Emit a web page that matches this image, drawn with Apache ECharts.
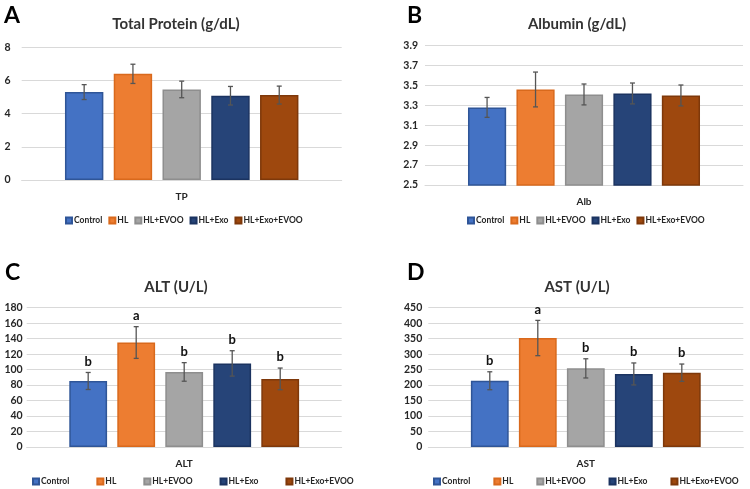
<!DOCTYPE html>
<html>
<head>
<meta charset="utf-8">
<script src="https://cdn.jsdelivr.net/npm/echarts@6/dist/echarts.min.js"></script>
<style>
  html, body { margin: 0; padding: 0; background: #fff; }
  #chart { width: 750px; height: 489px; }
</style>
</head>
<body>
<div id="chart"></div>
<script>
// groups (legend)
const groups = ['Control', 'HL', 'HL+EVOO', 'HL+Exo', 'HL+Exo+EVOO'];
const colors = ['#4472C4', '#ED7D31', '#A5A5A5', '#264478', '#9E480E'];
const borders = ['#2F5597', '#D9691C', '#8E8E8E', '#1B3360', '#7E380A'];

// values (mean / sd)
const tpMean = [5.3, 6.4, 5.46, 5.08, 5.12];
const tpSd = [0.45, 0.58, 0.5, 0.56, 0.54];
const albMean = [3.28, 3.46, 3.41, 3.42, 3.40];
const albSd = [0.10, 0.175, 0.105, 0.105, 0.105];
const altMean = [85.3, 135, 97, 108, 88];
const altSd = [11, 20.5, 12, 16.4, 14];
const altLetters = ['b', 'a', 'b', 'b', 'b'];
const astMean = [214, 352, 254, 236, 240];
const astSd = [29, 57, 31, 35.5, 28];
const astLetters = ['b', 'a', 'b', 'b', 'b'];

const FONT = 'Lato';
const TXT = '#262626';
const BAR_W = 0.12;
const BAR_GAP = 0.27;

// panel layout
const panels = [
  { letter: 'A', title: 'Total Protein (g/dL)', cat: 'TP', mean: tpMean, sd: tpSd, letters: null,
    grid: { left: 21.7, right: 408.3, top: 47.3, bottom: 309 },
    y: { min: 0, max: 8, interval: 2, margin: 11, dec: 0 },
    titleXY: [176, 24], letterXY: [4, 16], legend: { left: 65, top: 216, gap: 6 } },
  { letter: 'B', title: 'Albumin (g/dL)', cat: 'Alb', mean: albMean, sd: albSd, letters: null,
    grid: { left: 425, right: 7, top: 45.7, bottom: 304 },
    y: { min: 2.5, max: 3.9, interval: 0.2, margin: 7, dec: 1 },
    titleXY: [577, 24], letterXY: [407, 16], legend: { left: 467, top: 216, gap: 6 } },
  { letter: 'C', title: 'ALT (U/L)', cat: 'ALT', mean: altMean, sd: altSd, letters: altLetters,
    grid: { left: 26.7, right: 408.3, top: 307.7, bottom: 42 },
    y: { min: 0, max: 180, interval: 20, margin: 4, dec: 0 },
    titleXY: [176, 287], letterXY: [5, 273], legend: { left: 32, top: 477, gap: 27 } },
  { letter: 'D', title: 'AST (U/L)', cat: 'AST', mean: astMean, sd: astSd, letters: astLetters,
    grid: { left: 428.3, right: 6.7, top: 307.7, bottom: 42 },
    y: { min: 0, max: 450, interval: 50, margin: 6, dec: 0 },
    titleXY: [577, 287], letterXY: [407, 273], legend: { left: 433, top: 477, gap: 23 } }
];

const chart = echarts.init(document.getElementById('chart'), null, { renderer: 'canvas' });

const grid = [], xAxis = [], yAxis = [], series = [], legend = [], graphic = [];

panels.forEach(function (p, k) {
  grid.push(Object.assign({ containLabel: false }, p.grid));
  xAxis.push({
    type: 'category', gridIndex: k, data: [p.cat],
    axisTick: { show: false },
    axisLine: { lineStyle: { color: '#d9d9d9', width: 1 } },
    axisLabel: { margin: 12, fontFamily: FONT, fontWeight: 'bold', fontSize: 10, color: TXT }
  });
  yAxis.push({
    type: 'value', gridIndex: k, min: p.y.min, max: p.y.max, interval: p.y.interval,
    axisLine: { show: false }, axisTick: { show: false },
    splitLine: { lineStyle: { color: '#d9d9d9', width: 1 } },
    axisLabel: {
      margin: p.y.margin, fontFamily: FONT, fontWeight: 'bold', fontSize: 10.5, color: TXT,
      formatter: function (v) { return v.toFixed(p.y.dec); }
    }
  });
  groups.forEach(function (g, i) {
    series.push({
      name: g, type: 'bar', xAxisIndex: k, yAxisIndex: k,
      barWidth: (BAR_W * 100) + '%', barGap: (BAR_GAP * 100) + '%',
      itemStyle: { color: colors[i], borderColor: borders[i], borderWidth: 1.5 },
      data: [p.mean[i]],
      animation: false
    });
  });
  // error bars + significance letters
  const rows = p.mean.map(function (m, i) {
    return [i, m, p.sd[i], p.letters ? p.letters[i] : ''];
  });
  series.push({
    type: 'custom', xAxisIndex: k, yAxisIndex: k, silent: true, z: 5,
    data: rows,
    encode: { x: -1, y: 1 },
    renderItem: function (params, api) {
      const i = api.value(0), m = api.value(1), s = api.value(2);
      const band = api.size([1, 0])[0];
      const step = band * BAR_W * (1 + BAR_GAP);
      const x = api.coord([0, m])[0] + (i - 2) * step;
      const yt = api.coord([0, m + s])[1];
      const yb = api.coord([0, m - s])[1];
      const st = { stroke: '#555', lineWidth: 1.3 };
      const children = [
        { type: 'line', shape: { x1: x, y1: yt, x2: x, y2: yb }, style: st },
        { type: 'line', shape: { x1: x - 2.5, y1: yt, x2: x + 2.5, y2: yt }, style: st },
        { type: 'line', shape: { x1: x - 2.5, y1: yb, x2: x + 2.5, y2: yb }, style: st }
      ];
      const lt = rows[params.dataIndex][3];
      if (lt) {
        children.push({
          type: 'text', x: x, y: yt - 11,
          style: { text: lt, fill: '#111', font: 'bold 13px ' + FONT, align: 'center', verticalAlign: 'middle' }
        });
      }
      return { type: 'group', children: children };
    },
    animation: false
  });
  legend.push({
    data: groups, left: p.legend.left, top: p.legend.top, itemGap: p.legend.gap,
    width: 330, itemWidth: 6, itemHeight: 6, icon: 'rect', padding: 0,
    textStyle: { fontFamily: FONT, fontWeight: 'bold', fontSize: 8.5, color: TXT, padding: [0, 0, 0, -3] }
  });
  graphic.push({
    type: 'text', x: p.titleXY[0], y: p.titleXY[1],
    style: { text: p.title, fill: '#333', font: 'bold 15px ' + FONT, align: 'center', verticalAlign: 'middle' }
  });
  graphic.push({
    type: 'text', x: p.letterXY[0], y: p.letterXY[1],
    style: { text: p.letter, fill: '#000', font: 'bold 23px ' + FONT, align: 'left', verticalAlign: 'middle' }
  });
});

chart.setOption({
  backgroundColor: '#fff',
  animation: false,
  grid: grid, xAxis: xAxis, yAxis: yAxis,
  legend: legend, series: series, graphic: graphic
});
</script>
</body>
</html>
